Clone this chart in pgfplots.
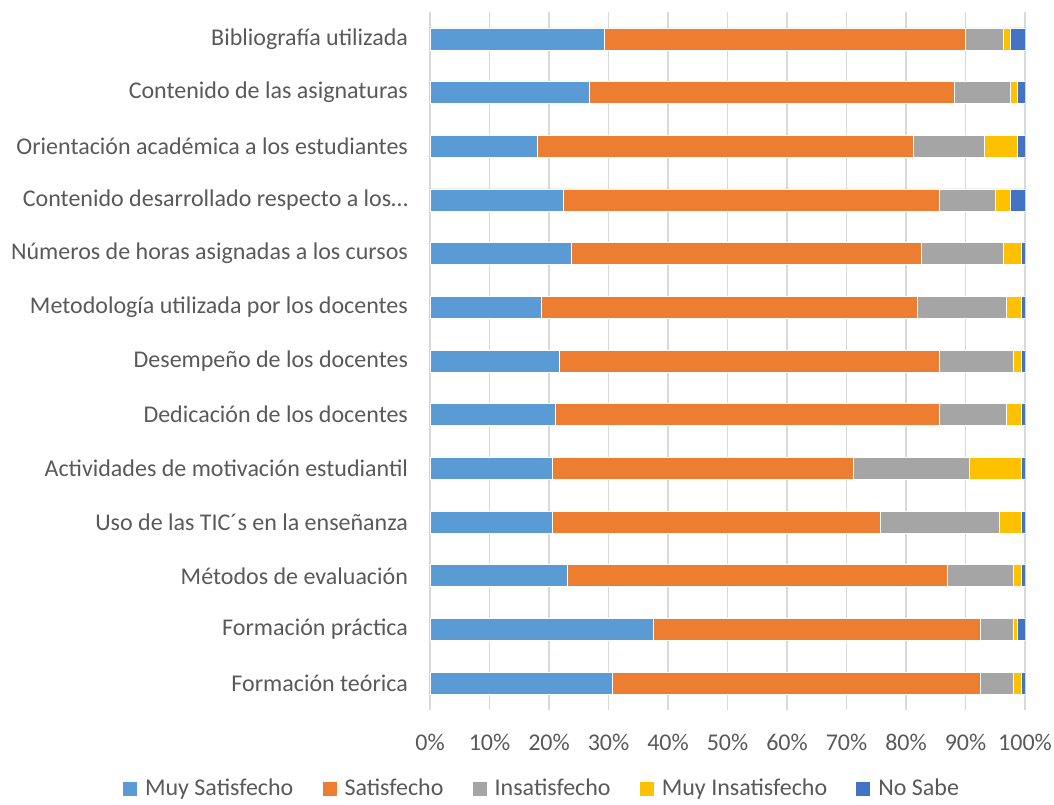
\documentclass[border=0pt]{standalone}
\usepackage{fontspec}
\setmainfont{Carlito}
\usepackage{pgfplots}
\pgfplotsset{compat=1.18}
\definecolor{cA}{HTML}{5B9BD5}
\definecolor{cB}{HTML}{ED7D31}
\definecolor{cC}{HTML}{A5A5A5}
\definecolor{cD}{HTML}{FFC000}
\definecolor{cE}{HTML}{4472C4}
\definecolor{txt}{HTML}{595959}
\definecolor{grd}{HTML}{D9D9D9}
\begin{document}
\begin{tikzpicture}
\useasboundingbox (-215pt,-47pt) rectangle (312pt,355pt);
\begin{axis}[
  scale only axis,
  width=297.5pt, height=349pt,
  xbar stacked,
  bar width=11pt,
  xmin=0, xmax=100,
  ymin=-0.5, ymax=12.5,
  xtick={0,10,...,100},
  xticklabel={\pgfmathprintnumber{\tick}\%},
  /pgf/number format/assume math mode=true,
  ytick={0,...,12},
  yticklabels={Formación teórica, Formación práctica, Métodos de evaluación, Uso de las TIC´s en la enseñanza, Actividades de motivación estudiantil, Dedicación de los docentes, Desempeño de los docentes, Metodología utilizada por los docentes, Números de horas asignadas a los cursos, Contenido desarrollado respecto a los…, Orientación académica a los estudiantes, Contenido de las asignaturas, Bibliografía utilizada},
  xmajorgrids,
  grid style={grd, line width=0.75pt},
  axis line style={draw=none},
  tick style={draw=none},
  major tick length=0pt,
  xticklabel style={font=\fontsize{12}{14.4}\selectfont, text=txt, yshift=-8.5pt},
  yticklabel style={font=\fontsize{12}{14.4}\selectfont, text=txt, xshift=-7.5pt},
  legend columns=5,
  legend style={draw=none, at={(0.19,-0.113)}, anchor=center,
    font=\fontsize{12}{14.4}\selectfont, text=txt,
    /tikz/every odd column/.append style={column sep=2pt},
    /tikz/every even column/.append style={column sep=12.6pt}},
  legend image code/.code={\fill[#1,draw=none] (0pt,-3.5pt) rectangle (7pt,3.5pt);},
]
\addplot[fill=cA, draw=white, line width=0.3pt] coordinates {(30.6,0) (37.5,1) (23.1,2) (20.5,3) (20.5,4) (21.1,5) (21.8,6) (18.7,7) (23.7,8) (22.4,9) (18.0,10) (26.8,11) (29.3,12)};
\addplot[fill=cB, draw=white, line width=0.3pt] coordinates {(61.9,0) (55.0,1) (63.8,2) (55.2,3) (50.7,4) (64.5,5) (63.8,6) (63.2,7) (58.9,8) (63.2,9) (63.3,10) (61.4,11) (60.7,12)};
\addplot[fill=cC, draw=white, line width=0.3pt] coordinates {(5.6,0) (5.6,1) (11.2,2) (19.9,3) (19.4,4) (11.3,5) (12.5,6) (15.0,7) (13.7,8) (9.4,9) (11.8,10) (9.3,11) (6.3,12)};
\addplot[fill=cD, draw=white, line width=0.3pt] coordinates {(1.3,0) (0.6,1) (1.3,2) (3.8,3) (8.8,4) (2.5,5) (1.3,6) (2.5,7) (3.1,8) (2.5,9) (5.6,10) (1.2,11) (1.2,12)};
\addplot[fill=cE, draw=white, line width=0.3pt] coordinates {(0.6,0) (1.3,1) (0.6,2) (0.6,3) (0.6,4) (0.6,5) (0.6,6) (0.6,7) (0.6,8) (2.5,9) (1.3,10) (1.3,11) (2.5,12)};
\legend{Muy Satisfecho, Satisfecho, Insatisfecho, Muy Insatisfecho, No Sabe}
\end{axis}
\end{tikzpicture}
\end{document}
